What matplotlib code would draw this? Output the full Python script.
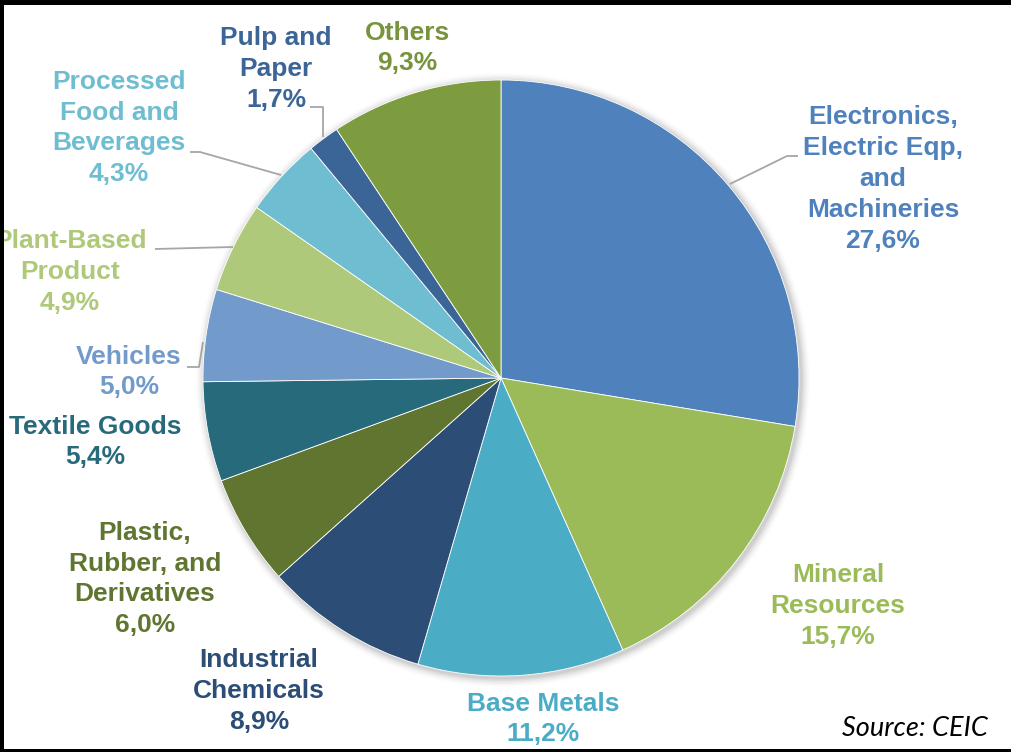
import numpy as np
import matplotlib
matplotlib.use("Agg")
import matplotlib.pyplot as plt
from matplotlib.patches import Circle, Rectangle

# Export composition by commodity group (percent share)
categories = [
    "Electronics,\nElectric Eqp,\nand\nMachineries",
    "Mineral\nResources",
    "Base Metals",
    "Industrial\nChemicals",
    "Plastic,\nRubber, and\nDerivatives",
    "Textile Goods",
    "Vehicles",
    "Plant-Based\nProduct",
    "Processed\nFood and\nBeverages",
    "Pulp and\nPaper",
    "Others",
]
shares = [27.6, 15.7, 11.2, 8.9, 6.0, 5.4, 5.0, 4.9, 4.3, 1.7, 9.3]

colors = ["#4F81BD", "#9BBB59", "#4BACC6", "#2C4D75", "#5F7530", "#276A7C",
          "#729ACA", "#AFC97A", "#6FBDD1", "#3B6497", "#7D9C3F"]
text_colors = ["#4F81BD", "#9BBB59", "#4BACC6", "#2C4D75", "#5F7530", "#276A7C",
               "#729ACA", "#AFC97A", "#6FBDD1", "#3B6497", "#77933C"]

W, H = 1011, 752
fig = plt.figure(figsize=(W / 100, H / 100), dpi=100)
ax = fig.add_axes([0, 0, 1, 1])
ax.set_xlim(0, W)
ax.set_ylim(0, H)
ax.set_aspect("equal")
ax.axis("off")

cx, cy, R = 501, H - 378, 298

# soft drop shadow around the pie
for i, a in enumerate(np.linspace(0.05, 0.012, 6)):
    ax.add_patch(Circle((cx + 2, cy - 2), R + 1.5 + i * 1.5, color="#000000",
                        alpha=a, lw=0, zorder=1))

wedges, _ = ax.pie(shares, colors=colors, startangle=90, counterclock=False,
                   center=(cx, cy), radius=R, frame=True,
                   wedgeprops=dict(linewidth=0.6, edgecolor="white"))
for w in wedges:
    w.set_zorder(2)
ax.set_xlim(0, W)
ax.set_ylim(0, H)
ax.axis("off")

# label anchor positions (pixel coordinates, top-left origin)
label_pos = [(883, 179), (838, 606), (543, 719), (259, 691), (145, 579),
             (95, 442), (129, 372), (70, 272), (119, 128), (276, 69), (407, 48)]

for lab, val, (px, py), tc in zip(categories, shares, label_pos, text_colors):
    txt = f"{lab}\n{val:.1f}%".replace(".", ",")
    ax.text(px, H - py, txt, ha="center", va="center", color=tc,
            fontsize=19, fontweight="bold", family="Liberation Sans",
            linespacing=1.36, zorder=5)

# leader lines: elbow points in pixel coordinates, ending on the wedge edge
leaders = {
    0: [(798, 156), (787, 156), (730, 184)],
    8: [(190, 152), (200, 152), (281, 175)],
    7: [(155, 249), (233, 247)],
    9: [(310, 107), (323, 107), (323, 137)],
    6: [(187, 367), (199, 367), (203, 342)],
}
for idx, pts in leaders.items():
    xs = [p[0] for p in pts]
    ys = [H - p[1] for p in pts]
    ax.plot(xs, ys, color="#A6A6A6", lw=1.3, zorder=4, solid_capstyle="butt")

ax.text(988, H - 728, "Source: CEIC", ha="right", va="center", fontsize=19.5,
        style="italic", family="Lato", color="black", zorder=5)

# black frame on top, left and bottom edges
ax.add_patch(Rectangle((0, H - 5), W, 5, color="black", lw=0, zorder=6))
ax.add_patch(Rectangle((0, 0), 4, H, color="black", lw=0, zorder=6))
ax.add_patch(Rectangle((0, 0), W, 3, color="black", lw=0, zorder=6))

fig.savefig("out.png", dpi=100, facecolor="white")
